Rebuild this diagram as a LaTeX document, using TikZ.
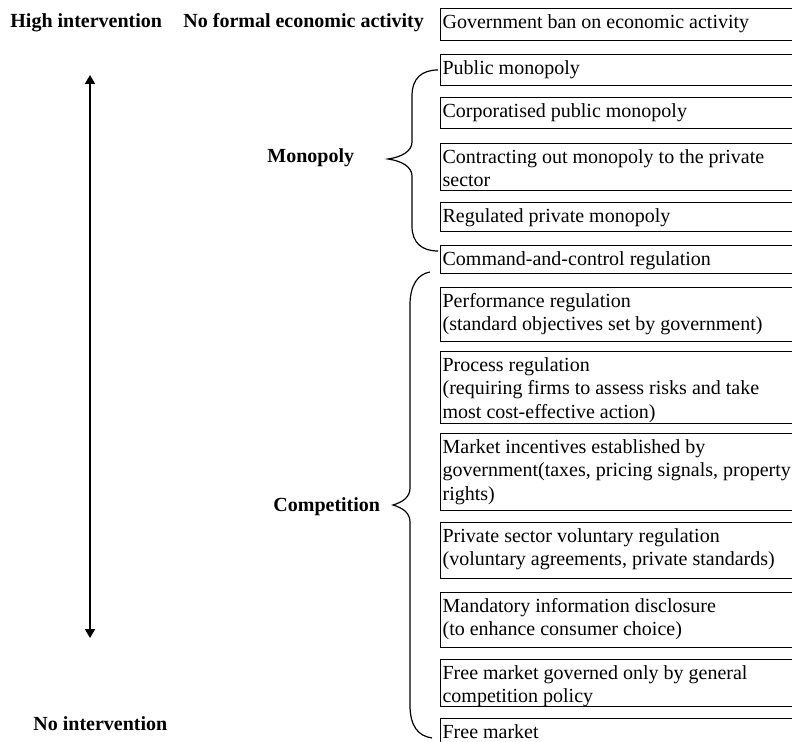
\documentclass[tikz,border=0pt]{standalone}
\usepackage{fontspec}
\setmainfont{Liberation Serif}
\usetikzlibrary{arrows.meta}
% text block of a stage box: fixed height, text set from the top, lines broken by hand
\newcommand\boxtext[2]{\parbox[t][#1][t]{200pt}{\raggedright\rule{0pt}{9.25pt}#2}}
\begin{document}
\begin{tikzpicture}[x=0.5pt,y=-0.5pt,
  stage/.style={draw, line width=0.6pt, anchor=north west, inner xsep=1pt, inner ysep=0.5pt,
    font=\fontsize{10}{11.75}\selectfont},
  level/.style={anchor=base west, inner sep=0pt, font=\fontsize{10}{11.75}\selectfont\bfseries},
  brace/.style={line width=0.6pt},
  axisarrow/.style={line width=0.9pt,
    {Triangle[length=4.5pt,width=5pt]}-{Triangle[length=4.5pt,width=5pt]}}]
\useasboundingbox (0,0) rectangle (792,742);
\begin{scope}
\clip (0,0) rectangle (792,742);
% stages, from most to least intervention
\node[stage] (ban) at (440,8) {\boxtext{15pt}{Government ban on economic activity}};
\node[stage] (pub) at (440,54) {\boxtext{14.5pt}{Public monopoly}};
\node[stage] (corp) at (440,97) {\boxtext{14.5pt}{Corporatised public monopoly}};
\node[stage] (contr) at (440,143) {\boxtext{22.5pt}{Contracting out monopoly to the private\\sector}};
\node[stage] (regmon) at (440,202) {\boxtext{13.5pt}{Regulated private monopoly}};
\node[stage] (cmd) at (440,245) {\boxtext{13pt}{Command-and-control regulation}};
\node[stage] (perf) at (440,287) {\boxtext{26pt}{Performance regulation\\(standard objectives set by government)}};
\node[stage] (proc) at (440,351) {\boxtext{35pt}{Process regulation\\(requiring firms to assess risks and take\\most cost-effective action)}};
\node[stage] (mkt) at (440,433) {\boxtext{37.5pt}{Market incentives established by\\government(taxes, pricing signals, property\\rights)}};
\node[stage] (vol) at (440,522) {\boxtext{27pt}{Private sector voluntary regulation\\(voluntary agreements, private standards)}};
\node[stage] (info) at (440,592) {\boxtext{26.5pt}{Mandatory information disclosure\\(to enhance consumer choice)}};
\node[stage] (comp) at (440,659) {\boxtext{22.5pt}{Free market governed only by general\\competition policy}};
\node[stage] (free) at (440,718) {\boxtext{15pt}{Free market}};
\end{scope}

% bold headings
\node[level] (high) at (10,28) {High intervention};
\node[level] (noformal) at (183,28) {No formal economic activity};
\node[level] (mono) at (267,163) {Monopoly};
\node[level] (compet) at (273,512) {Competition};
\node[level] (noint) at (33,730) {No intervention};

% intervention scale
\coordinate (hi) at (90,75);
\coordinate (lo) at (90,638);
\draw[axisarrow] (lo) -- (hi);

% monopoly brace
\draw[brace] (438,70) .. controls (422,70) and (412,78) .. (412,96) -- (412,142)
  .. controls (412,151) and (402,157) .. (388,159)
  .. controls (402,161) and (412,167) .. (412,176) -- (412,226)
  .. controls (412,243) and (422,251) .. (438,251);

% competition brace
\draw[brace] (430,272) .. controls (418,274) and (410,285) .. (410,305) -- (410,488)
  .. controls (410,497) and (403,502) .. (393,505)
  .. controls (403,508) and (410,513) .. (410,522) -- (410,705)
  .. controls (410,726) and (418,736) .. (432,738);
\end{tikzpicture}
\end{document}
